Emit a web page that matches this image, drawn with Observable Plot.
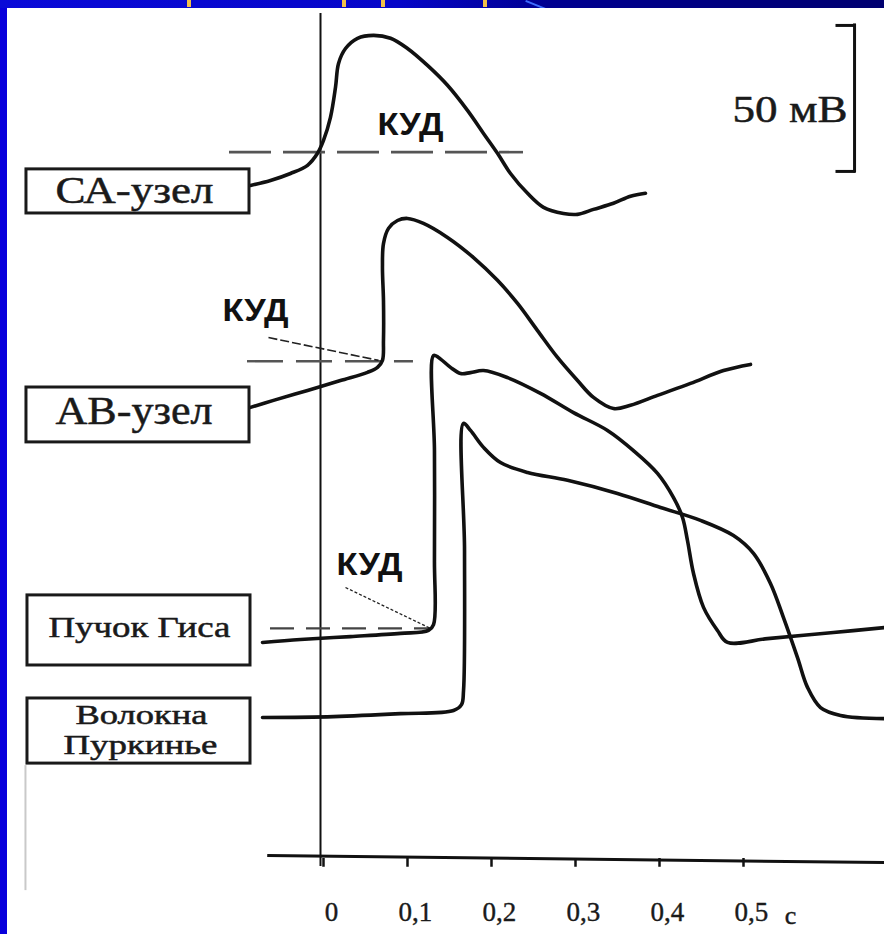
<!DOCTYPE html>
<html><head><meta charset="utf-8">
<script src="https://cdn.jsdelivr.net/npm/d3@7"></script>
<script src="https://cdn.jsdelivr.net/npm/@observablehq/plot@0.6"></script>
<style>
html,body{margin:0;padding:0;}
body{width:884px;height:934px;overflow:hidden;background:#0800dc;position:relative;}
#top{position:absolute;left:0;top:0;width:884px;height:8px;background:linear-gradient(to right,#0a0ad8 0%,#0606c8 45%,#000090 62%,#000070 100%);}
#chart{position:absolute;left:7px;top:8px;width:877px;height:926px;background:#fff;}
.yl{position:absolute;top:0;width:4px;height:7px;background:#f0c04a;}
#slash{position:absolute;left:526px;top:0px;width:22px;height:2px;background:#3f6cff;transform:rotate(22deg);transform-origin:top left;}
</style></head>
<body>
<div id="top"></div>
<div class="yl" style="left:187px"></div>
<div class="yl" style="left:342px"></div>
<div class="yl" style="left:381px"></div>
<div class="yl" style="left:483px"></div>
<div id="slash"></div>
<div id="chart"></div>
<script>
// ---- data (time in ms, potential in mV) ----
const traceNames = ["СА-узел", "АВ-узел", "Пучок Гиса", "Волокна\nПуркинье"];

const saTime = [-86.9,-63.1,-39.3,-19.0,-7.1,0,8.3,14.3,17.9,26.2,40.5,59.5,79.8,100.0,123.8,147.6,171.4,190.5,207.1,222.6,242.9,261.9,285.7,302.4,321.4,345.2,365.5,383.3];
const saMv   = [-51.4,-49.7,-47.3,-44.5,-40.4,-36.0,-28.1,-17.8,-9.6,-4.5,-1.0,0,-1.0,-4.5,-10.3,-17.1,-25.7,-33.6,-40.4,-47.3,-54.1,-58.9,-61.0,-61.3,-59.6,-57.5,-55.1,-54.1];

const avTime = [-86.9,-59.5,-19.0,20.2,52.4,64.3,70.2,71.4,71.4,70.2,71.4,77.4,88.1,100.0,119.0,147.6,178.6,207.1,231.0,254.8,278.6,302.4,321.4,345.2,365.5,397.6,436.9,476.2,508.3];
const avMv   = [-55.8,-53.4,-50.0,-46.6,-43.8,-42.1,-39.7,-32.9,-19.2,-7.9,0.3,5.5,8.2,8.9,7.2,2.4,-4.5,-12.3,-20.2,-29.5,-38.7,-46.6,-52.4,-56.2,-55.1,-51.7,-47.6,-43.2,-41.1];

const hisTime = [-72.6,-27.4,32.1,91.7,125.0,131.0,132.1,132.1,131.0,136.9,151.2,163.1,175.0,190.5,219.0,258.3,297.6,338.1,369.0,397.6,416.7,427.4,433.3,440.5,452.4,469.0,481.0,528.6,607.1,667.9];
const hisMv   = [-80.8,-79.8,-78.8,-77.7,-76.7,-74.7,-52.7,-15.1,17.5,16.8,13.4,11.3,11.6,12.3,9.9,4.5,-2.1,-8.2,-15.1,-22.9,-31.2,-38.0,-45.9,-57.2,-68.8,-76.7,-80.8,-79.5,-77.4,-75.7];

const purTime = [-72.6,11.9,91.7,154.8,164.3,166.7,167.9,166.7,175.0,190.5,210.7,242.9,290.5,350.0,401.2,448.8,488.1,511.9,532.1,547.6,564.3,576.2,591.7,615.5,667.9];
const purMv   = [-90.4,-90.1,-89.1,-88.0,-86.0,-81.2,-33.2,10.3,7.9,2.1,-3.1,-6.5,-9.2,-13.7,-18.5,-22.9,-28.1,-34.2,-44.5,-56.2,-69.9,-80.1,-87.0,-89.7,-90.8];

const thresholdMv = [-40, -40, -76];            // КУД for СА, АВ, Гис
const thresholdLabel = "КУД";
const tickValues = [0, 100, 200, 300, 400, 500]; // ms
const tickLabels = ["0", "0,1", "0,2", "0,3", "0,4", "0,5"];
const unitLabel = "с";
const scaleBarMv = 50;
const scaleBarLabel = "50 мВ";

// ---- layout (vertical stacking of traces, annotation placement) ----
const W = 877, H = 926;
const xDomain = [-376.19, 667.86];
const yDomain = [-26.03, 291.10];
const traceOffset = [281.9, 210.3, 154.8, 138.7];
const thresholdExtent = [[-111.9, 238.1], [-90.5, 107.1], [-63.1, 127.4]];

const traceList = [[saTime, saMv], [avTime, avMv], [hisTime, hisMv], [purTime, purMv]];
const rows = traceList.flatMap(([ts, vs], i) =>
  ts.map((t, j) => ({trace: traceNames[i], t, v: vs[j] + traceOffset[i]})));

const thrRows = thresholdMv.map((m, i) => ({v: m + traceOffset[i], x1: thresholdExtent[i][0], x2: thresholdExtent[i][1]}));

const boxes = [
  {x1: -353.6, x2: -88.1, y1: 220.9, y2: 236.0},
  {x1: -353.6, x2: -88.1, y1: 142.5, y2: 161.3},
  {x1: -352.4, x2: -86.9, y1: 66.1, y2: 90.1},
  {x1: -352.4, x2: -86.9, y1: 32.5, y2: 54.8}
];
const nameLines = traceNames.flatMap(n => n.split("\n"));
const labelPos = [
  {x: -225.0, y: 228.6, s: 37},
  {x: -225.6, y: 153.1, s: 39},
  {x: -219.1, y: 79.1, s: 29},
  {x: -216.7, y: 49.1, s: 27},
  {x: -217.9, y: 38.9, s: 27}
];
const labelRows = nameLines.map((text, i) => ({text, ...labelPos[i]}));

const kudPos = [{x: 103.6, y: 251.2}, {x: -81.0, y: 187.5}, {x: 54.8, y: 100.7}];
const leaders = [
  {x1: -65.5, y1: -31.9 + traceOffset[1], x2: 65.5, y2: -39.7 + traceOffset[1], dash: "9,3"},
  {x1: 26.2, y1: -62.0 + traceOffset[2], x2: 127.4, y2: thresholdMv[2] + traceOffset[2], dash: "3,2"}
];
const barX = 632.2, barY0 = 235.3, barStub = 611.9;

const serif = "Liberation Serif, Times New Roman, serif";
const ink = "#111";
const textInk = "#1a1a1a";

const textMarks = [];
for (const size of [...new Set(labelRows.map(d => d.s))]) {
  textMarks.push(Plot.text(labelRows.filter(d => d.s === size), {
    x: "x", y: "y", text: "text", fontSize: size, fontFamily: serif,
    fill: textInk, stroke: textInk, strokeWidth: 0.5, lineAnchor: "middle", textAnchor: "middle"
  }));
}

const chart = Plot.plot({
  width: W, height: H, margin: 0,
  x: {domain: xDomain, range: [0, W], axis: null},
  y: {domain: yDomain, range: [H, 0], axis: null},
  style: {background: "#fff"},
  marks: [
    // faint scan line at left
    Plot.ruleX([-354.8], {y1: -11.0, y2: 31.8, stroke: "#c9c9c9", strokeWidth: 2}),
    // vertical time-zero line
    Plot.ruleX([0], {y1: -2.7, y2: 289.4, stroke: ink, strokeWidth: 2, dx: -3}),
    // time axis
    Plot.link([{x1: -67, y1: 1.0, x2: xDomain[1], y2: -1.4}], {x1: "x1", y1: "y1", x2: "x2", y2: "y2", stroke: ink, strokeWidth: 3}),
    Plot.ruleX(tickValues, {y1: 0, y2: -3, stroke: ink, strokeWidth: 2.5}),
    Plot.text(tickValues, {x: d => d, y: -18.5, text: (d, i) => tickLabels[i], dx: 8,
      fontSize: 27, fontFamily: serif, fill: textInk, stroke: textInk, strokeWidth: 0.4,
      lineAnchor: "middle", textAnchor: "middle"}),
    Plot.text([tickValues[tickValues.length - 1]], {x: d => d, y: -19.5, text: () => unitLabel, dx: 47,
      fontSize: 26, fontFamily: serif, fill: textInk, stroke: textInk, strokeWidth: 0.4,
      lineAnchor: "middle", textAnchor: "middle"}),
    // threshold (КУД) dashed levels
    Plot.ruleY([thrRows[0]], {y: "v", x1: "x1", x2: "x2", stroke: "#555", strokeWidth: 2.6, strokeDasharray: "42,12"}),
    Plot.ruleY([thrRows[1]], {y: "v", x1: "x1", x2: "x2", stroke: "#555", strokeWidth: 2.4, strokeDasharray: "36,13"}),
    Plot.ruleY([thrRows[2]], {y: "v", x1: "x1", x2: "x2", stroke: "#444", strokeWidth: 2.4, strokeDasharray: "24,12"}),
    Plot.link([leaders[0]], {x1: "x1", y1: "y1", x2: "x2", y2: "y2", stroke: "#222", strokeWidth: 1.6, strokeDasharray: leaders[0].dash}),
    Plot.link([leaders[1]], {x1: "x1", y1: "y1", x2: "x2", y2: "y2", stroke: "#222", strokeWidth: 1.3, strokeDasharray: leaders[1].dash}),
    // action potentials
    Plot.line(rows, {x: "t", y: "v", z: "trace", curve: "catmull-rom", stroke: ink, strokeWidth: 3.6,
      strokeLinejoin: "round", strokeLinecap: "round"}),
    // label boxes
    Plot.rect(boxes, {x1: "x1", x2: "x2", y1: "y1", y2: "y2", fill: "#fff", stroke: "#1a1a1a", strokeWidth: 3}),
    ...textMarks,
    Plot.text(kudPos, {x: "x", y: "y", text: () => thresholdLabel, fontSize: 32, fontWeight: "bold",
      fontFamily: "Liberation Sans, Arial, sans-serif", fill: ink, lineAnchor: "middle", textAnchor: "middle"}),
    // 50 mV scale bar
    Plot.ruleX([barX], {y1: barY0, y2: barY0 + scaleBarMv, stroke: ink, strokeWidth: 3, strokeLinecap: "square"}),
    Plot.ruleY([barY0, barY0 + scaleBarMv], {x1: barStub, x2: barX, stroke: ink, strokeWidth: 3, strokeLinecap: "square"}),
    Plot.text([scaleBarLabel], {x: 555.4, y: 256.5, text: d => d, fontSize: 38, fontFamily: serif,
      fill: textInk, stroke: textInk, strokeWidth: 0.5, lineAnchor: "middle", textAnchor: "middle"})
  ]
});

const fit = new Map([["СА-узел", 158], ["АВ-узел", 157], ["Пучок Гиса", 182], ["Волокна", 132],
  ["Пуркинье", 154], ["50 мВ", 115], ["КУД", 66]]);
chart.querySelectorAll("text").forEach(t => {
  const w = fit.get(t.textContent);
  if (w) { t.setAttribute("textLength", w); t.setAttribute("lengthAdjust", "spacingAndGlyphs"); }
});
document.getElementById("chart").appendChild(chart);
</script>
</body></html>
